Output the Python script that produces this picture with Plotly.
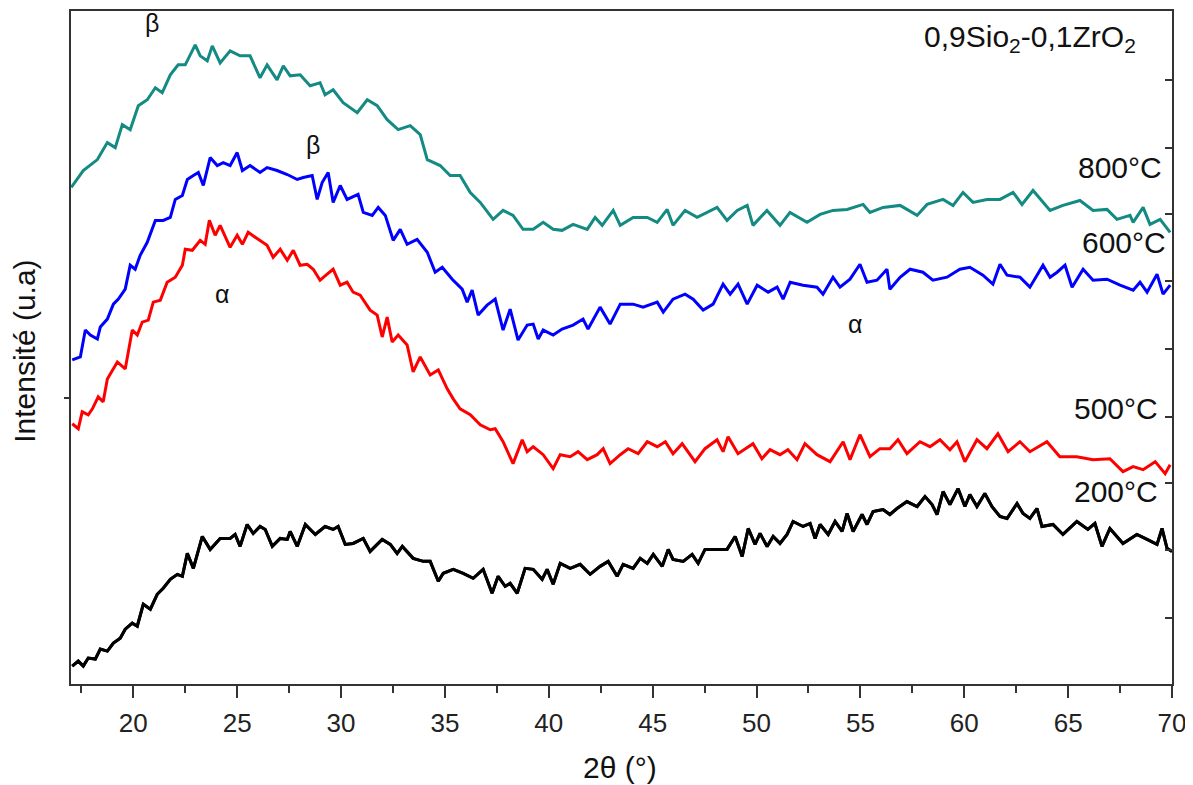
import plotly.graph_objects as go

# ---- data (2theta in degrees, intensity in arbitrary units) ----
x800 = [17.01,17.59,18.27,18.75,19.13,19.47,19.85,20.24,20.67,21.06,21.39,21.78,22.16,22.50,22.98,23.22,23.56,23.80,24.18,24.66,
        25.14,25.62,26.10,26.44,26.92,27.22,27.55,28.03,28.51,28.99,29.23,29.62,30.10,30.78,31.26,31.74,32.22,32.75,33.33,33.81,
        34.15,34.77,35.25,35.73,36.22,36.70,37.32,37.80,38.28,38.76,39.25,39.73,40.21,40.64,41.17,41.85,42.23,42.57,43.10,43.44,
        44.06,44.74,45.22,45.70,45.98,46.56,47.14,48.10,48.58,49.07,49.55,49.83,50.50,51.13,51.61,52.43,53.06,53.68,54.36,55.13,
        55.46,56.09,56.91,57.73,58.21,58.98,59.46,59.94,60.42,61.09,61.72,62.35,62.78,63.31,64.13,64.75,65.57,66.20,66.87,67.35,
        67.98,68.13,68.61,68.94,69.43,69.91]
y800 = [498,515,526,543,538,561,556,580,586,598,593,611,621,621,641,630,625,640,623,635,
        630,630,608,621,606,620,610,611,600,603,591,596,583,573,586,580,566,556,560,551,
        526,520,510,510,493,483,466,475,470,456,456,463,456,455,461,456,468,460,475,460,
        468,468,463,476,460,475,468,478,465,475,480,460,475,460,473,463,471,475,476,481,
        473,478,480,470,481,486,480,493,483,486,486,493,481,495,475,480,485,475,476,466,
        470,463,478,461,466,453]

x600 = [17.06,17.45,17.69,17.93,18.27,18.41,18.75,19.04,19.28,19.61,19.85,20.09,20.33,20.67,21.06,21.44,21.78,22.02,22.36,22.60,
        22.89,23.13,23.37,23.70,24.04,24.33,24.66,25.00,25.25,25.62,26.10,26.44,26.92,27.41,27.89,28.18,28.61,28.85,29.09,29.38,
        29.62,29.96,30.29,30.82,31.07,31.50,31.79,32.13,32.51,32.85,33.18,33.66,34.15,34.53,34.87,35.35,35.83,36.07,36.31,36.60,
        37.03,37.42,37.80,38.14,38.52,38.96,39.25,39.49,39.73,40.21,40.64,41.17,41.65,41.89,42.47,42.95,43.44,44.06,44.54,45.22,
        45.51,45.98,46.56,46.95,47.43,47.91,48.39,48.73,49.11,49.55,50.03,50.56,50.99,51.28,51.62,52.24,52.91,53.20,53.68,54.02,
        54.50,54.98,55.32,55.80,56.28,56.42,56.91,57.39,58.01,58.49,59.17,59.79,60.27,60.90,61.38,61.72,62.06,62.68,63.16,63.79,
        64.13,64.47,64.85,65.19,65.72,66.20,66.87,67.50,68.13,68.46,68.80,69.28,69.57,69.91]
y600 = [325,328,355,350,346,358,366,381,386,396,420,416,430,443,465,465,468,486,490,506,
        510,513,500,528,520,523,520,533,515,520,513,518,515,511,506,508,510,486,503,513,
        483,500,486,491,473,470,478,470,445,456,441,446,433,413,418,406,396,383,395,370,
        380,386,355,376,345,360,361,346,355,350,356,360,366,356,378,361,381,381,378,383,
        373,386,391,386,375,381,401,391,401,381,400,393,398,386,403,400,398,391,408,398,
        406,421,403,405,416,396,408,416,413,405,408,416,418,410,401,421,410,408,398,420,
        408,413,420,398,416,405,406,400,395,403,393,411,391,400]

x500 = [17.06,17.35,17.54,17.83,18.03,18.31,18.55,18.75,19.23,19.61,19.95,20.19,20.43,20.72,20.96,21.30,21.63,22.02,22.36,22.50,
        22.84,23.22,23.46,23.66,23.94,24.18,24.66,25.00,25.25,25.53,26.01,26.44,26.73,27.07,27.41,27.70,28.03,28.37,28.66,28.99,
        29.33,29.62,29.96,30.29,30.58,30.92,31.40,31.74,31.98,32.22,32.46,32.75,33.18,33.47,33.81,34.29,34.68,35.11,35.40,35.73,
        36.22,36.70,37.18,37.42,37.80,38.28,38.72,38.96,39.25,39.73,40.21,40.55,41.03,41.41,41.85,42.33,42.62,42.95,43.44,43.82,
        44.30,44.74,45.22,45.61,45.98,46.42,47.04,47.52,48.10,48.39,48.63,49.11,49.83,50.26,50.65,51.13,51.51,51.95,52.33,52.91,
        53.54,54.17,54.50,54.98,55.46,55.94,56.42,56.81,57.24,57.87,58.35,58.83,59.31,59.65,60.03,60.61,61.09,61.62,62.11,62.68,
        63.16,63.98,64.60,65.42,66.20,67.01,67.64,68.13,68.61,69.19,69.67,69.91]
y500 = [261,256,273,270,276,288,283,306,323,316,355,350,363,365,383,385,403,408,420,436,
        435,445,441,465,450,460,438,450,441,453,446,440,428,436,425,435,420,421,416,405,
        411,416,400,403,393,390,375,370,348,368,343,350,340,313,328,310,315,296,286,276,
        270,260,255,256,243,221,245,233,238,230,216,230,228,233,225,230,236,221,230,236,
        231,243,238,243,231,241,223,236,245,233,248,231,241,226,235,230,235,225,241,230,
        223,243,225,250,228,236,236,245,231,243,238,245,235,243,223,245,236,251,233,243,
        233,243,228,228,225,226,213,218,215,223,211,220]

x200 = [17.06,17.35,17.59,17.83,18.17,18.41,18.75,19.04,19.37,19.61,19.95,20.19,20.48,20.82,21.15,21.44,21.78,22.12,22.36,22.60,
        22.89,23.32,23.70,24.18,24.66,24.90,25.14,25.48,25.77,26.10,26.35,26.69,27.07,27.41,27.55,27.89,28.28,28.76,29.23,29.62,
        29.86,30.20,30.58,31.07,31.40,31.98,32.37,32.70,32.95,33.47,33.96,34.29,34.68,34.92,35.40,35.88,36.36,36.84,37.27,37.56,
        37.90,38.14,38.48,38.86,39.25,39.68,39.92,40.21,40.55,41.03,41.51,41.99,42.47,42.86,43.29,43.58,44.06,44.40,44.74,45.03,
        45.46,45.75,45.98,46.47,46.90,47.19,47.52,47.91,48.58,48.97,49.31,49.60,49.93,50.17,50.51,50.80,51.13,51.47,51.76,52.24,
        52.58,52.82,53.06,53.45,53.78,54.12,54.36,54.65,55.08,55.32,55.61,56.09,56.42,56.76,57.24,57.73,58.11,58.45,58.69,58.98,
        59.31,59.70,60.03,60.27,60.61,60.99,61.33,61.72,62.06,62.54,62.83,63.16,63.50,63.74,64.27,64.75,65.42,65.95,66.29,66.63,
        67.01,67.64,68.31,68.80,69.28,69.52,69.76,70.00]
y200 = [18,23,18,26,25,35,33,41,46,55,61,58,80,75,90,96,105,110,108,131,
        116,148,135,146,146,150,138,160,151,158,155,138,146,145,153,138,160,150,158,155,
        158,140,141,146,133,145,140,131,138,126,123,123,103,111,115,111,106,115,91,108,
        98,101,91,116,115,105,115,100,121,116,120,110,118,123,108,120,116,126,121,130,
        118,135,125,123,130,121,135,135,135,148,128,156,140,151,138,148,141,150,163,158,
        161,146,160,150,163,153,171,153,170,160,173,175,170,176,183,178,188,180,170,193,
        180,196,178,190,178,191,178,168,166,181,171,166,176,158,160,150,163,155,161,138,
        156,141,150,145,140,156,136,133]

series_names = ["200°C", "500°C", "600°C", "800°C"]
series_colors = ["#000000", "#ff0000", "#0000ff", "#138a82"]

x_range = [17, 70]
y_range = [0, 675]
x_tick_vals = [20, 25, 30, 35, 40, 45, 50, 55, 60, 65, 70]
right_tick_vals = [66, 134, 202, 268, 336, 404, 471, 538, 606]
left_tick_vals = [287]

FONT = "Liberation Sans, Arial, sans-serif"
AX = "#333333"

fig = go.Figure()
for xs, ys, name, col in zip([x200, x500, x600, x800], [y200, y500, y600, y800], series_names, series_colors):
    fig.add_trace(go.Scatter(x=xs, y=ys, mode="lines", name=name,
                             line=dict(color=col, width=3), showlegend=False))
# overlay axis (right side ticks) carried by a copy of the first series
fig.add_trace(go.Scatter(x=x200, y=y200, mode="lines", yaxis="y2", showlegend=False,
                         line=dict(color=series_colors[0], width=3), hoverinfo="skip"))

# the page body adds an 8 px offset, so the figure is 16 px smaller than the window
fig.update_layout(
    width=1185, height=777,
    margin=dict(l=63, r=21, t=1, b=101),
    paper_bgcolor="white", plot_bgcolor="white",
    font=dict(family=FONT, color="#222222"),
    xaxis=dict(range=x_range, tickvals=x_tick_vals, ticks="outside", ticklen=12, tickwidth=2,
               tickcolor=AX, showline=True, linecolor=AX, linewidth=2, mirror=True,
               showgrid=False, zeroline=False, tickfont=dict(size=26, family=FONT, color="#222222"),
               ticklabelstandoff=3,
               minor=dict(ticks="outside", dtick=2.5, tick0=17.5, ticklen=7, tickwidth=2, tickcolor=AX)),
    yaxis=dict(range=y_range, tickvals=left_tick_vals, ticks="outside", ticklen=5, tickwidth=2,
               tickcolor=AX, showticklabels=False, showline=True, linecolor=AX, linewidth=2,
               mirror=True, showgrid=False, zeroline=False),
    yaxis2=dict(range=y_range, overlaying="y", side="right", tickvals=right_tick_vals,
                ticks="inside", ticklen=7, tickwidth=2, tickcolor=AX, showticklabels=False,
                showline=False, showgrid=False, zeroline=False),
)

labels = [
    ("800°C", 69.6, 518), ("600°C", 69.8, 443), ("500°C", 69.4, 276), ("200°C", 69.4, 193),
]
for txt, lx, ly in labels:
    fig.add_annotation(x=lx, y=ly, xref="x", yref="y", text=txt, showarrow=False,
                       xanchor="right", yanchor="middle", font=dict(size=30, family=FONT, color="#111111"))

fig.add_annotation(x=68.36, y=647, xref="x", yref="y", text="0,9Sio<sub>2</sub>-0,1ZrO<sub>2</sub>",
                   showarrow=False, xanchor="right", yanchor="middle",
                   font=dict(size=30, family=FONT, color="#111111"))

greek = [("β", 20.91, 663), ("β", 28.67, 541), ("α", 24.28, 391), ("α", 54.74, 361)]
for txt, gx, gy in greek:
    fig.add_annotation(x=gx, y=gy, xref="x", yref="y", text=txt, showarrow=False,
                       xanchor="center", yanchor="middle", font=dict(size=25, family=FONT, color="#111111"))

fig.add_annotation(x=0.4986, y=-0.1244, xref="paper", yref="paper", text="2θ (°)", showarrow=False,
                   xanchor="center", yanchor="middle", font=dict(size=30, family=FONT, color="#111111"))
fig.add_annotation(x=-0.0418, y=0.495, xref="paper", yref="paper", text="Intensité (u.a)", showarrow=False,
                   textangle=-90, xanchor="center", yanchor="middle",
                   font=dict(size=30, family=FONT, color="#111111"))

fig.write_html("out.html")
